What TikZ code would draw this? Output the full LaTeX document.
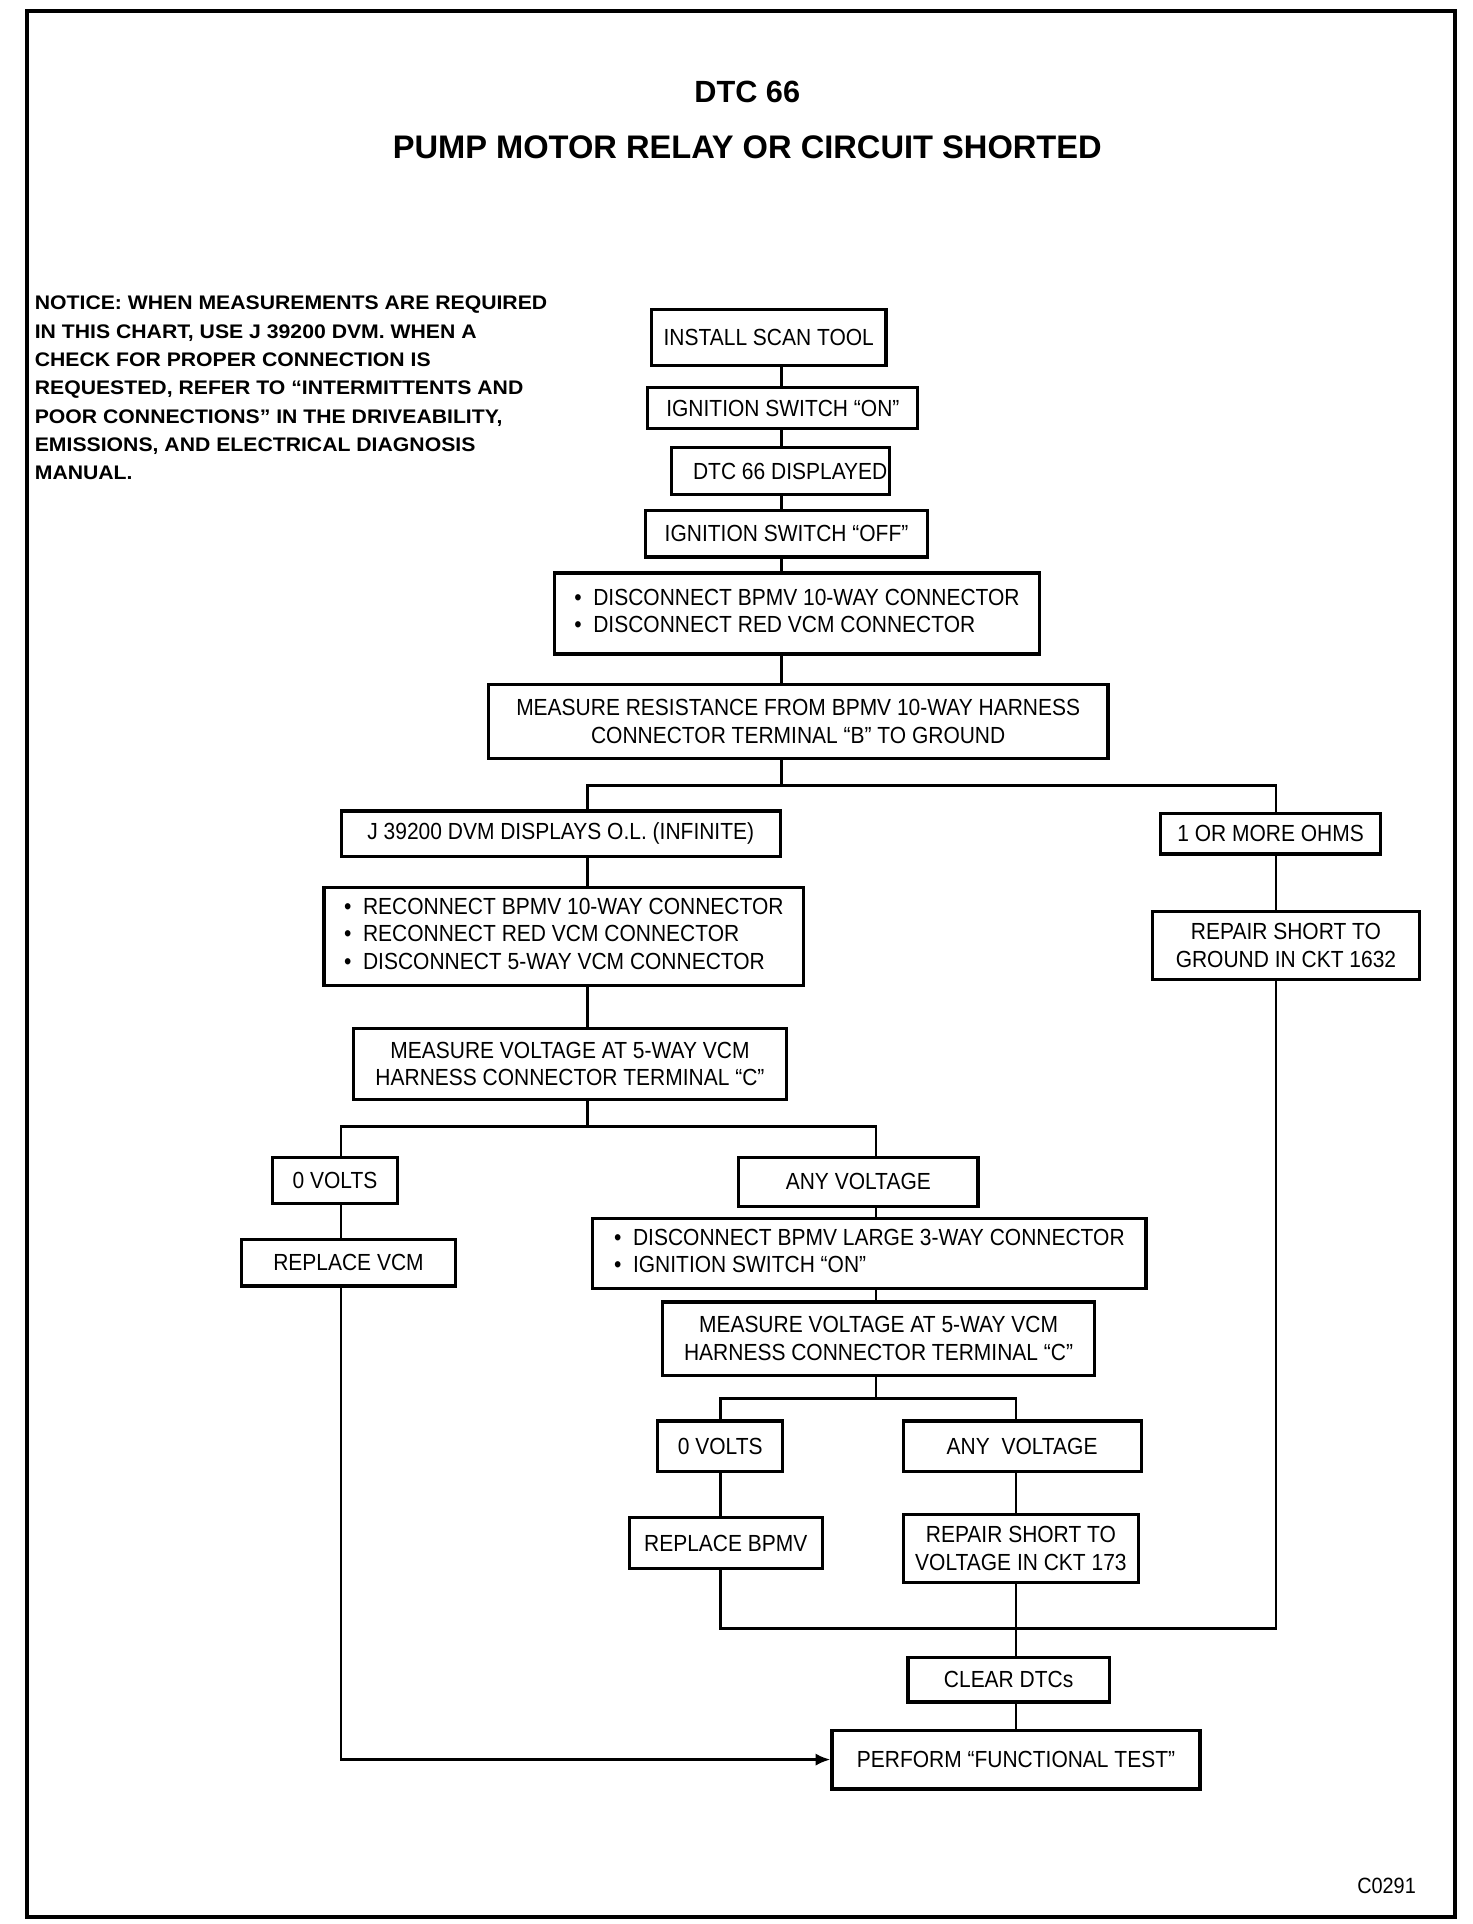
\documentclass[tikz,border=0pt]{standalone}
\usepackage{fontspec}
\setmainfont{Liberation Sans}
\newfontfamily\boxfont{Liberation Sans}[FakeStretch=0.9]
\newfontfamily\notefont{Liberation Sans}[FakeStretch=1.08]
\usetikzlibrary{arrows.meta}
\tikzset{
  box/.style={draw, line width=1.3pt, inner sep=0pt, align=center,
    font=\boxfont\fontsize{9.5}{11.3}\selectfont},
  conn/.style={line width=1.1pt},
}
\newcommand\bx[6]{\node[box, minimum width={(#4-#2)*0.5pt}, minimum height={(#5-#3)*0.5pt}]
  (#1) at ({(#2+#4)/2},{(#3+#5)/2}) {#6};}
\newcommand\blist[1]{\begin{tabular}{@{}l@{}}#1\end{tabular}}
\begin{document}
\begin{tikzpicture}[x=0.5pt,y=-0.5pt]
\useasboundingbox (0,0) rectangle (1200,1568);
\draw[line width=1.6pt] (22,9) rectangle (1186,1562);

\node[font=\bfseries\fontsize{12.5}{14}\selectfont] (t1) at (609,75) {DTC 66};
\node[font=\bfseries\fontsize{13.3}{15}\selectfont] (t2) at (609,120) {PUMP MOTOR RELAY OR CIRCUIT SHORTED};

\node[anchor=north west, inner sep=0pt, align=left,
  font=\notefont\bfseries\fontsize{8}{11.55}\selectfont] (note) at (28,241)
{NOTICE: WHEN MEASUREMENTS ARE REQUIRED\\
IN THIS CHART, USE J 39200 DVM. WHEN A\\
CHECK FOR PROPER CONNECTION IS\\
REQUESTED, REFER TO “INTERMITTENTS AND\\
POOR CONNECTIONS” IN THE DRIVEABILITY,\\
EMISSIONS, AND ELECTRICAL DIAGNOSIS\\
MANUAL.};

\bx{scan}{531}{252}{722}{298}{INSTALL SCAN TOOL}
\bx{ign}{528}{316}{748}{349}{IGNITION SWITCH “ON”}
\bx{dtc}{547}{365}{725}{403}{\hspace*{8pt}DTC 66 DISPLAYED}
\bx{off}{526}{416}{756}{454}{IGNITION SWITCH “OFF”}
\bx{disc}{452}{467}{847}{533}{\blist{•~~DISCONNECT BPMV 10-WAY CONNECTOR\\•~~DISCONNECT RED VCM CONNECTOR}}
\bx{meas}{398}{558}{903}{618}{MEASURE RESISTANCE FROM BPMV 10-WAY HARNESS\\CONNECTOR TERMINAL “B” TO GROUND}
\bx{ol}{278}{661}{636}{698}{J 39200 DVM DISPLAYS O.L. (INFINITE)}
\bx{ohms}{946}{663}{1125}{696}{1 OR MORE OHMS}
\bx{recon}{264}{723}{655}{803}{\blist{•~~RECONNECT BPMV 10-WAY CONNECTOR\\•~~RECONNECT RED VCM CONNECTOR\\•~~DISCONNECT 5-WAY VCM CONNECTOR}}
\bx{gnd}{939}{743}{1157}{798}{REPAIR SHORT TO\\GROUND IN CKT 1632}
\bx{mv1}{288}{838}{641}{896}{MEASURE VOLTAGE AT 5-WAY VCM\\HARNESS CONNECTOR TERMINAL “C”}
\bx{zv1}{222}{943}{324}{981}{0 VOLTS}
\bx{av1}{602}{943}{797}{983}{ANY VOLTAGE}
\bx{rvcm}{197}{1010}{371}{1048}{REPLACE VCM}
\bx{disc3}{483}{993}{934}{1050}{\blist{•~~DISCONNECT BPMV LARGE 3-WAY CONNECTOR\\•~~IGNITION SWITCH “ON”}}
\bx{mv2}{540}{1061}{892}{1121}{MEASURE VOLTAGE AT 5-WAY VCM\\HARNESS CONNECTOR TERMINAL “C”}
\bx{zv2}{536}{1158}{638}{1199}{0 VOLTS}
\bx{av2}{736}{1158}{930}{1199}{ANY\ \ VOLTAGE}
\bx{rbpmv}{513}{1237}{670}{1278}{REPLACE BPMV}
\bx{volt}{736}{1234}{928}{1290}{REPAIR SHORT TO\\VOLTAGE IN CKT 173}
\bx{clr}{740}{1351}{904}{1387}{CLEAR DTCs}
\bx{perf}{678}{1410}{978}{1458}{PERFORM “FUNCTIONAL TEST”}

\node[font=\boxfont\fontsize{9}{10}\selectfont] (code) at (1130,1537) {C0291};

\coordinate (xa) at (637,0);
\coordinate (xb) at (479,0);
\coordinate (xc) at (1040,0);
\coordinate (xd) at (278,0);
\coordinate (xe) at (714,0);
\coordinate (xf) at (587,0);
\coordinate (xg) at (828,0);
\coordinate (b1) at (637,640);
\coordinate (b2) at (479,918);
\coordinate (b3) at (714,1140);
\coordinate (m) at (828,1327);

\draw[conn] (scan.south -| xa) -- (ign.north -| xa);
\draw[conn] (ign.south -| xa) -- (dtc.north -| xa);
\draw[conn] (dtc.south -| xa) -- (off.north -| xa);
\draw[conn] (off.south -| xa) -- (disc.north -| xa);
\draw[conn] (disc.south -| xa) -- (meas.north -| xa);
\draw[conn] (meas.south -| xa) -- (b1);
\draw[conn] (ol.north -| xb) |- (b1) -| (ohms.north -| xc);
\draw[conn] (ol.south -| xb) -- (recon.north -| xb);
\draw[conn] (recon.south -| xb) -- (mv1.north -| xb);
\draw[conn] (mv1.south -| xb) -- (b2);
\draw[conn] (zv1.north -| xd) |- (b2) -| (av1.north -| xe);
\draw[conn] (zv1.south -| xd) -- (rvcm.north -| xd);
\draw[conn, -{Latex[length=6pt,width=5pt]}] (rvcm.south -| xd) |- (perf.west);
\draw[conn] (av1.south -| xe) -- (disc3.north -| xe);
\draw[conn] (disc3.south -| xe) -- (mv2.north -| xe);
\draw[conn] (mv2.south -| xe) -- (b3);
\draw[conn] (zv2.north -| xf) |- (b3) -| (av2.north -| xg);
\draw[conn] (zv2.south -| xf) -- (rbpmv.north -| xf);
\draw[conn] (av2.south -| xg) -- (volt.north -| xg);
\draw[conn] (rbpmv.south -| xf) |- (m);
\draw[conn] (ohms.south -| xc) -- (gnd.north -| xc);
\draw[conn] (gnd.south -| xc) |- (m);
\draw[conn] (volt.south -| xg) -- (clr.north -| xg);
\draw[conn] (clr.south -| xg) -- (perf.north -| xg);
\end{tikzpicture}
\end{document}
